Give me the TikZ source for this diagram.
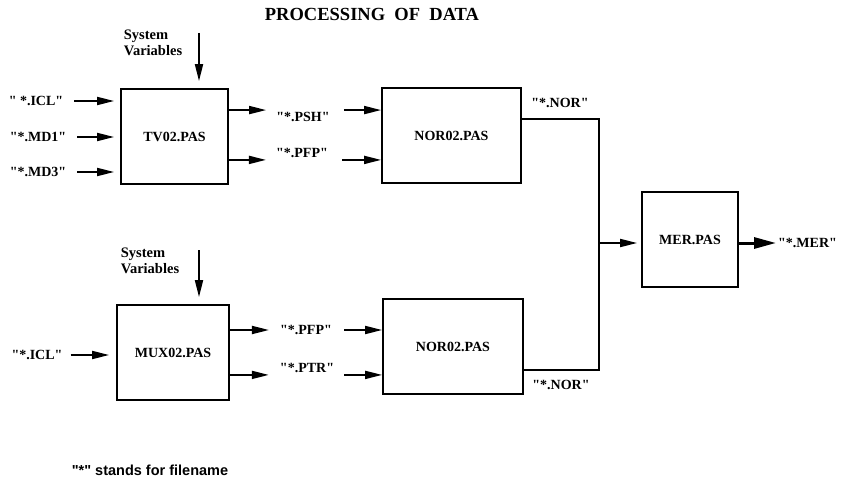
\documentclass[tikz,border=0pt]{standalone}
\usepackage{fontspec}
\setmainfont{Liberation Serif}[Ligatures=TeXOff]
\setsansfont{Liberation Sans}[Ligatures=TeXOff]
\usetikzlibrary{arrows.meta,positioning}

\begin{document}
\begin{tikzpicture}[x=1pt,y=-1pt,
    box/.style={draw,line width=1.8pt,font=\fontsize{14}{16}\selectfont\bfseries,minimum height=95pt},
    lbl/.style={font=\fontsize{14}{16}\selectfont\bfseries,inner sep=2pt},
    arr/.style={line width=1.8pt,-{Triangle[length=17pt,width=8pt]}},
    bigarr/.style={line width=3pt,-{Triangle[length=22pt,width=11pt]}},
  ]
  \useasboundingbox (0,0) rectangle (842,481);
  \node (title) at (372,14) {\fontsize{18.5}{20}\selectfont\bfseries PROCESSING\ \ OF\ \ DATA};

  % the programs
  \node[box,minimum width=107pt] (tv) at (174.5,136.5) {TV02.PAS};
  \node[box,minimum width=112pt] (mux) at (173,352.5) {MUX02.PAS};
  \node[box,minimum width=139pt] (nortop) at (451.5,135.5) {NOR02.PAS};
  \node[box,minimum width=140pt] (norbot) at (453,346.5) {NOR02.PAS};
  \node[box,minimum width=96pt] (mer) at (690,239.5) {MER.PAS};

  % system variables
  \node[lbl,align=left,font=\fontsize{14.5}{16}\selectfont\bfseries] (sysa) at (153,43) {System\\Variables};
  \node[lbl,align=left,font=\fontsize{14.5}{16}\selectfont\bfseries] (sysb) at (150,261) {System\\Variables};
  \coordinate (sysatop) at (199,33);
  \coordinate (sysbtop) at (199,250);
  \draw[arr,shorten >=7pt] (sysatop) -- (sysatop |- tv.north);
  \draw[arr,shorten >=7pt] (sysbtop) -- (sysbtop |- mux.north);

  % input files
  \node[lbl] (icla) at (36,101) {" *.ICL"};
  \node[lbl] (mdone) at (38,137) {"*.MD1"};
  \node[lbl] (mdthree) at (38,172) {"*.MD3"};
  \node[lbl] (iclb) at (37,355) {"*.ICL"};
  \draw[arr,shorten <=9pt,shorten >=6pt] (icla) -- (tv.west |- icla);
  \draw[arr,shorten <=9pt,shorten >=6pt] (mdone) -- (tv.west |- mdone);
  \draw[arr,shorten <=9pt,shorten >=6pt] (mdthree) -- (tv.west |- mdthree);
  \draw[arr,shorten <=6pt,shorten >=7pt] (iclb) -- (mux.west |- iclb);

  % intermediate files
  \node[lbl] (psh) at (303,117) {"*.PSH"};
  \node[lbl] (pfpa) at (302,153) {"*.PFP"};
  \node[lbl] (pfpb) at (306,330) {"*.PFP"};
  \node[lbl] (ptr) at (307,368) {"*.PTR"};
  \draw[arr,shorten >=8pt] (tv.east |- psh.north) -- (psh.north west);
  \draw[arr,shorten >=8pt] (tv.east |- pfpa.south) -- (pfpa.south west);
  \draw[arr,shorten <=12pt] (psh.north east) -- (nortop.west |- psh.north);
  \draw[arr,shorten <=12pt] (pfpa.south east) -- (nortop.west |- pfpa.south);
  \draw[arr,shorten >=9pt] (mux.east |- pfpb) -- (pfpb.west);
  \draw[arr,shorten >=9pt] (mux.east |- ptr.south) -- (ptr.south west);
  \draw[arr,shorten <=10pt] (pfpb.east) -- (norbot.west |- pfpb);
  \draw[arr,shorten <=8pt] (ptr.south east) -- (norbot.west |- ptr.south);

  % merging
  \node[lbl] (nora) at (560,103) {"*.NOR"};
  \node[lbl] (norb) at (561,385) {"*.NOR"};
  \coordinate (join) at (599,243);
  \draw[line width=1.8pt] ([yshift=-32pt]nortop.north east) -| (join)
    |- ([yshift=25pt]norbot.south east);
  \draw[arr,shorten >=4pt] (join) -- (mer.west |- join);
  \node[lbl,anchor=west] (merout) at (776,243) {"*.MER"};
  \draw[bigarr] (mer.east |- merout) -- (merout.west);

  \node (note) at (150,470) {\sffamily\bfseries\fontsize{14.5}{16}\selectfont "*" stands for filename};
\end{tikzpicture}
\end{document}
